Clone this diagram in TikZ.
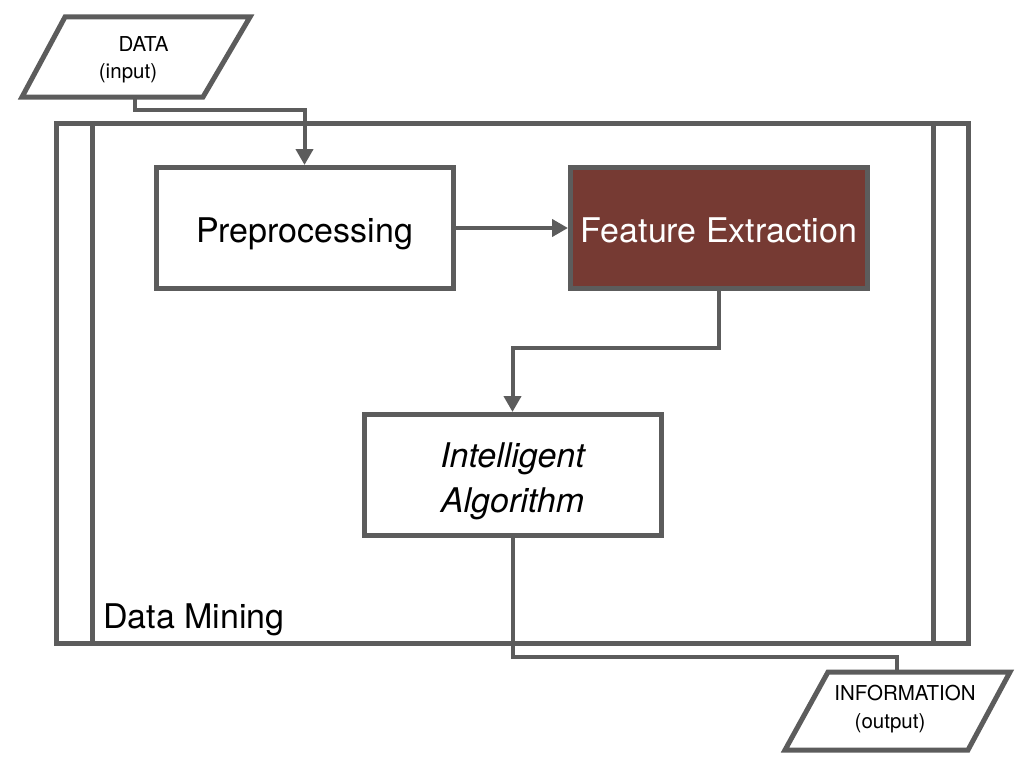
\documentclass[tikz,border=0pt]{standalone}
\usepackage{fontspec}
\setmainfont{TeX Gyre Heros}
\usetikzlibrary{arrows.meta}
\definecolor{linegray}{HTML}{5C5C5C}
\definecolor{fered}{HTML}{763A33}
\tikzset{
  box/.style={draw=linegray, line width=5pt, minimum width=297pt, minimum height=121pt,
    inner sep=0pt, font=\fontsize{34}{45}\selectfont, align=center,
    text height=28pt, text depth=0pt},
  conn/.style={draw=linegray, line width=4pt},
  arr/.style={conn, -{Triangle[length=16pt,width=17pt]}},
  frame/.style={draw=linegray, line width=5pt},
  iotext/.style={anchor=base, font=\fontsize{20.5}{24}\selectfont, inner sep=0pt},
}
\begin{document}
\begin{tikzpicture}[x=1pt,y=-1pt]
\useasboundingbox (0,0) rectangle (1024,768);
% outer data mining frame
\draw[frame] (56,123) rectangle (968,643);
\draw[frame] (92,123) -- (92,643);
\draw[frame] (933,123) -- (933,643);
\node[anchor=base west, inner sep=0pt, font=\fontsize{34}{40}\selectfont] (dm) at (103,628) {Data Mining};
% process boxes
\node[box] (pre) at (304.5,228) {Preprocessing};
\node[box, fill=fered, text=white] (fe) at (719,228) {Feature Extraction};
\node[box, font=\fontsize{34}{45}\selectfont\itshape, text height=74pt, text depth=0pt] (ia) at (512.5,475) {Intelligent\\Algorithm};
% input / output
\draw[frame, line join=miter] (65,17) -- (250,17) -- (203,97) -- (22,97) -- cycle;
\node[iotext] (datat) at (143.5,52) {DATA};
\node[iotext] (datai) at (128,78) {(input)};
\coordinate (dataout) at (135,97);
\draw[frame, line join=miter] (828,672) -- (1010,672) -- (968,750) -- (785,750) -- cycle;
\node[iotext] (infot) at (905,700) {INFORMATION};
\node[iotext] (infoo) at (890,728) {(output)};
\coordinate (infoin) at (897,672);
% connectors
\draw[arr] (dataout) -- (135,110) -- (304.5,110) -- (pre.north);
\draw[arr] (pre.east) -- (fe.west);
\draw[arr] (fe.south) -- (719,348) -- (512.5,348) -- (ia.north);
\draw[conn] (ia.south) -- (512.5,657) -- (897,657) -- (infoin);
\end{tikzpicture}
\end{document}
